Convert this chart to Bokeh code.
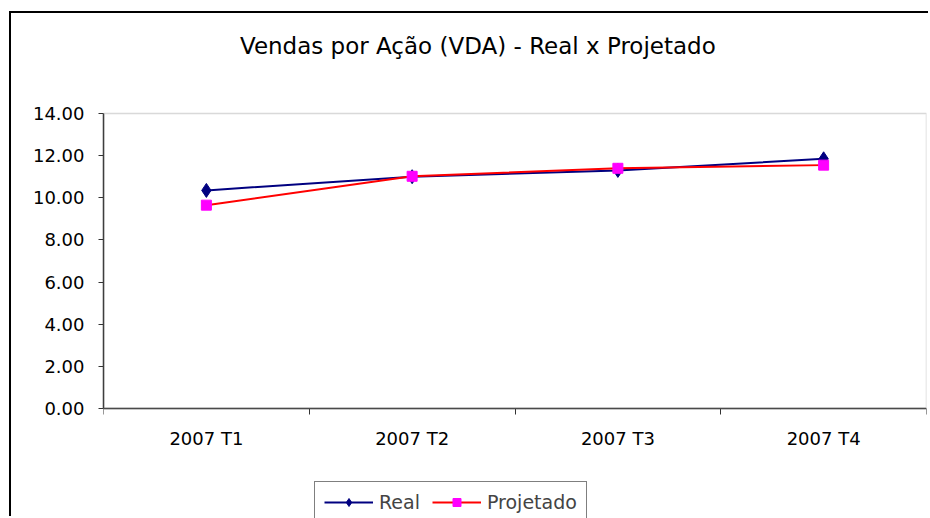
from bokeh.plotting import figure
from bokeh.models import (Range1d, FixedTicker, Legend, LegendItem, Label,
                          BoxAnnotation, NumeralTickFormatter)
from bokeh.embed import file_html
from bokeh.resources import INLINE

categories = ["2007 T1", "2007 T2", "2007 T3", "2007 T4"]
real = [10.35, 11.0, 11.3, 11.85]
projetado = [9.65, 11.02, 11.4, 11.55]
y_ticks = [0, 2, 4, 6, 8, 10, 12, 14]
title_text = "Vendas por Ação (VDA) -  Real x Projetado"

FONT = "DejaVu Sans"

# layout (pixels inside the canvas)
CANVAS_W, CANVAS_H = 919, 505
PLOT_LEFT, PLOT_RIGHT = 92, 915          # plot area, canvas px
PLOT_TOP, PLOT_BOTTOM = 100, 395         # 14.00 line / 0.00 line, canvas px
y_max = y_ticks[-1]
px_per_unit = (PLOT_BOTTOM - PLOT_TOP) / y_max
n = len(categories)
px_per_cat = (PLOT_RIGHT - PLOT_LEFT) / n

xs = [i + 0.5 for i in range(n)]

p = figure(width=CANVAS_W, height=CANVAS_H, output_backend="svg",
           toolbar_location=None,
           x_range=Range1d(0, n),
           y_range=Range1d(-(CANVAS_H - PLOT_BOTTOM) / px_per_unit,
                           PLOT_BOTTOM / px_per_unit),
           min_border_left=PLOT_LEFT, min_border_right=CANVAS_W - PLOT_RIGHT,
           min_border_top=0, min_border_bottom=0)
p.styles = {"margin-left": "9px", "margin-top": "11px",
            "border-left": "2px solid black", "border-top": "2px solid black"}
p.background_fill_color = "white"
p.border_fill_color = "white"
p.outline_line_color = None
p.xgrid.visible = False
p.ygrid.visible = False

# plot-area border (grey)
p.add_layout(BoxAnnotation(left=0, right=n, bottom=0, top=y_max,
                           fill_alpha=0, line_color="#808080", line_width=1.5))

# x axis, fixed at y = 0
p.xaxis.fixed_location = 0
p.xaxis.ticker = FixedTicker(ticks=xs, minor_ticks=list(range(n + 1)))
p.xaxis.major_label_overrides = {x: c for x, c in zip(xs, categories)}
p.xaxis.major_tick_out = 0
p.xaxis.major_tick_in = 0
p.xaxis.minor_tick_out = 6
p.xaxis.minor_tick_in = 0
p.xaxis.minor_tick_line_color = "#333333"
p.xaxis.major_label_standoff = 13

# y axis
p.yaxis.ticker = FixedTicker(ticks=y_ticks, minor_ticks=[])
p.yaxis.bounds = (0, y_max)
p.yaxis.formatter = NumeralTickFormatter(format="0.00")
p.yaxis.major_tick_out = 5
p.yaxis.major_tick_in = 0
p.yaxis.major_tick_line_color = "#333333"
p.yaxis.major_label_standoff = 14

for ax in (p.xaxis[0], p.yaxis[0]):
    ax.axis_line_color = "#333333"
    ax.axis_line_width = 1.5
    ax.major_label_text_font = FONT
    ax.major_label_text_font_size = "18px"
    ax.major_label_text_color = "black"

rl = p.line(xs, real, line_color="#000080", line_width=2)
rs = p.scatter(xs, real, marker="diamond", size=14,
               fill_color="#000080", line_color="#000080")
pl = p.line(xs, projetado, line_color="#FF0000", line_width=2)
ps = p.scatter(xs, projetado, marker="square", size=10, fill_color="#FF00FF",
               line_color="#FF00FF")

# title (centre at canvas x=470, y=32)
p.add_layout(Label(x=(470 - PLOT_LEFT) / px_per_cat,
                   y=(PLOT_BOTTOM - 32) / px_per_unit,
                   text=title_text, text_align="center", text_baseline="middle",
                   text_font=FONT, text_font_size="23px", text_color="black"))

legend = Legend(items=[LegendItem(label="Real", renderers=[rl, rs]),
                       LegendItem(label="Projetado", renderers=[pl, ps])],
                orientation="horizontal", location=(211, -5),
                border_line_color="black", border_line_width=1,
                label_text_font=FONT, label_text_font_size="19px",
                glyph_width=49, glyph_height=20, padding=9, spacing=12,
                margin=0, label_standoff=6, background_fill_color="white")
p.add_layout(legend)

open("out.html", "w").write(file_html(p, INLINE))
